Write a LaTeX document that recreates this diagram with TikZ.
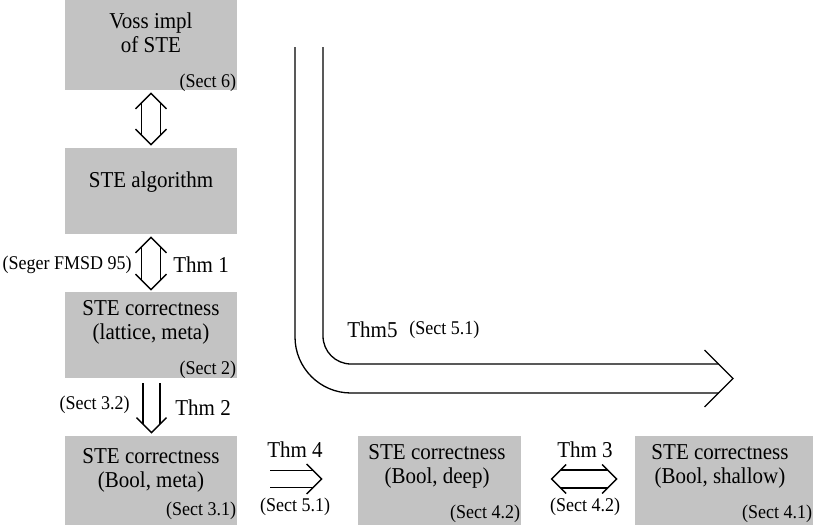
\documentclass[tikz,border=0pt]{standalone}
\usepackage{fontspec}
\usepackage{graphicx}
\setmainfont{Liberation Serif}
\usetikzlibrary{calc}
\definecolor{boxgray}{RGB}{195,195,195}
\newcommand\vst[1]{\scalebox{1}[1.08]{#1}}
\newcommand\twoline[2]{\vst{\begin{tabular}{@{}c@{}}#1\\#2\end{tabular}}}
\tikzset{
  box/.style={fill=boxgray, draw=none, rectangle, inner sep=0pt},
  maintxt/.style={font=\fontsize{10.5}{11}\selectfont, align=center, inner sep=0pt},
  smalltxt/.style={font=\fontsize{9}{10}\selectfont, inner sep=0pt},
  arr/.style={line width=0.65pt, black, line cap=butt, line join=miter},
}
\begin{document}
\begin{tikzpicture}[x=0.5pt,y=-0.5pt]
\useasboundingbox (0,0) rectangle (813,525);
% boxes
\node[box, minimum width=86pt, minimum height=45pt] (b1) at (151,45) {};
\node[box, minimum width=86pt, minimum height=43pt] (b2) at (151,191) {};
\node[box, minimum width=86pt, minimum height=43pt] (b3) at (151,335) {};
\node[box, minimum width=86pt, minimum height=44.5pt] (b4) at (151,480.5) {};
\node[box, minimum width=81.5pt, minimum height=44.5pt] (b5) at (439.5,480.5) {};
\node[box, minimum width=89pt, minimum height=44.5pt] (b6) at (724,480.5) {};
% box texts
\node[maintxt] (t1) at (151,36) {\twoline{Voss impl}{of STE}};
\node[maintxt] (t2) at (151,182) {\vst{STE algorithm}};
\node[maintxt] (t3) at (151,323) {\twoline{STE correctness}{(lattice, meta)}};
\node[maintxt] (t4) at (151,471) {\twoline{STE correctness}{(Bool, meta)}};
\node[maintxt] (t5) at (437,467) {\twoline{STE correctness}{(Bool, deep)}};
\node[maintxt] (t6) at (720,467) {\twoline{STE correctness}{(Bool, shallow)}};
\node[smalltxt, anchor=east] (s1) at ($(b1.south east)+(-1,-8)$) {\vst{(Sect 6)}};
\node[smalltxt, anchor=east] (s3) at ($(b3.south east)+(-1,-9)$) {\vst{(Sect 2)}};
\node[smalltxt, anchor=east] (s4) at ($(b4.south east)+(-1,-15)$) {\vst{(Sect 3.1)}};
\node[smalltxt, anchor=east] (s5) at ($(b5.south east)+(-1,-12)$) {\vst{(Sect 4.2)}};
\node[smalltxt, anchor=east] (s6) at ($(b6.south east)+(-1,-12)$) {\vst{(Sect 4.1)}};
% arrow end points
\coordinate (a1t) at ($(b1.south)+(0,3)$);
\coordinate (a1b) at ($(b2.north)+(0,-3)$);
\coordinate (a2t) at ($(b2.south)+(0,3)$);
\coordinate (a2b) at ($(b3.north)+(0,-2)$);
\coordinate (a3t) at ($(b3.south)+(0.5,5)$);
\coordinate (a3b) at ($(b4.north)+(0.5,-3)$);
\coordinate (a4l) at ($(b4.east)+(33,-1.5)$);
\coordinate (a4r) at ($(b5.west)+(-36,-1.5)$);
\coordinate (a5l) at ($(b6.west)+(-83,-1.5)$);
\coordinate (a5r) at ($(b6.west)+(-18,-1.5)$);
% arrow 1 (double vertical)
\draw[arr] ($(a1t)+(-15.5,15.5)$) -- (a1t) -- ++(15.5,15.5);
\draw[arr] ($(a1t)+(-9.5,9.5)$) -- ($(a1b)+(-9.5,-9.5)$);
\draw[arr] ($(a1t)+(9.5,9.5)$) -- ($(a1b)+(9.5,-9.5)$);
\draw[arr] ($(a1b)+(-15.5,-15.5)$) -- (a1b) -- ++(15.5,-15.5);
% arrow 2 (double vertical, Thm 1)
\draw[arr] ($(a2t)+(-15.5,15.5)$) -- (a2t) -- ++(15.5,15.5);
\draw[arr] ($(a2t)+(-9.5,9.5)$) -- ($(a2b)+(-9.5,-9.5)$);
\draw[arr] ($(a2t)+(9.5,9.5)$) -- ($(a2b)+(9.5,-9.5)$);
\draw[arr] ($(a2b)+(-15.5,-15.5)$) -- (a2b) -- ++(15.5,-15.5);
% arrow 3 (down, Thm 2)
\draw[arr] ($(a3t)+(-8.5,0)$) -- ($(a3b)+(-8.5,-8.5)$);
\draw[arr] ($(a3t)+(8.5,0)$) -- ($(a3b)+(8.5,-8.5)$);
\draw[arr] ($(a3b)+(-15,-15)$) -- (a3b) -- ++(15,-15);
% arrow 4 (right, Thm 4)
\draw[arr] ($(a4l)+(0,-8.5)$) -- ($(a4r)+(-8.5,-8.5)$);
\draw[arr] ($(a4l)+(0,8.5)$) -- ($(a4r)+(-8.5,8.5)$);
\draw[arr] ($(a4r)+(-15,-15)$) -- (a4r) -- ++(-15,15);
% arrow 5 (double horizontal, Thm 3)
\draw[arr] ($(a5l)+(14.5,-14.5)$) -- (a5l) -- ++(14.5,14.5);
\draw[arr] ($(a5l)+(9,-9)$) -- ($(a5r)+(-9,-9)$);
\draw[arr] ($(a5l)+(9,9)$) -- ($(a5r)+(-9,9)$);
\draw[arr] ($(a5r)+(-14.5,-14.5)$) -- (a5r) -- ++(-14.5,14.5);
% big bent arrow (Thm5)
\coordinate (ot) at (295,47);
\coordinate (it) at (323,47);
\coordinate (tip) at (733,378.5);
\draw[arr, rounded corners=28pt] (ot) |- ($(tip)+(-14.5,14.5)$);
\draw[arr, rounded corners=14pt] (it) |- ($(tip)+(-14.5,-14.5)$);
\draw[arr] ($(tip)+(-28.5,-28.5)$) -- (tip) -- ++(-28.5,28.5);
% labels
\node[maintxt, anchor=west] (l1) at (173,265) {\vst{Thm 1}};
\node[smalltxt, anchor=east] (l1s) at (132,265) {\vst{(Seger FMSD 95)}};
\node[maintxt, anchor=west] (l2) at (175,408) {\vst{Thm 2}};
\node[smalltxt, anchor=east] (l2s) at (130,405) {\vst{(Sect 3.2)}};
\node[maintxt] (l4) at (295,450) {\vst{Thm 4}};
\node[smalltxt] (l4s) at (295,507) {\vst{(Sect 5.1)}};
\node[maintxt] (l3) at (585,450) {\vst{Thm 3}};
\node[smalltxt] (l3s) at (585,507) {\vst{(Sect 4.2)}};
\node[maintxt, anchor=west] (l5) at (347,330) {\vst{Thm5}};
\node[smalltxt, anchor=west] (l5s) at (409,330) {\vst{(Sect 5.1)}};
\end{tikzpicture}
\end{document}
